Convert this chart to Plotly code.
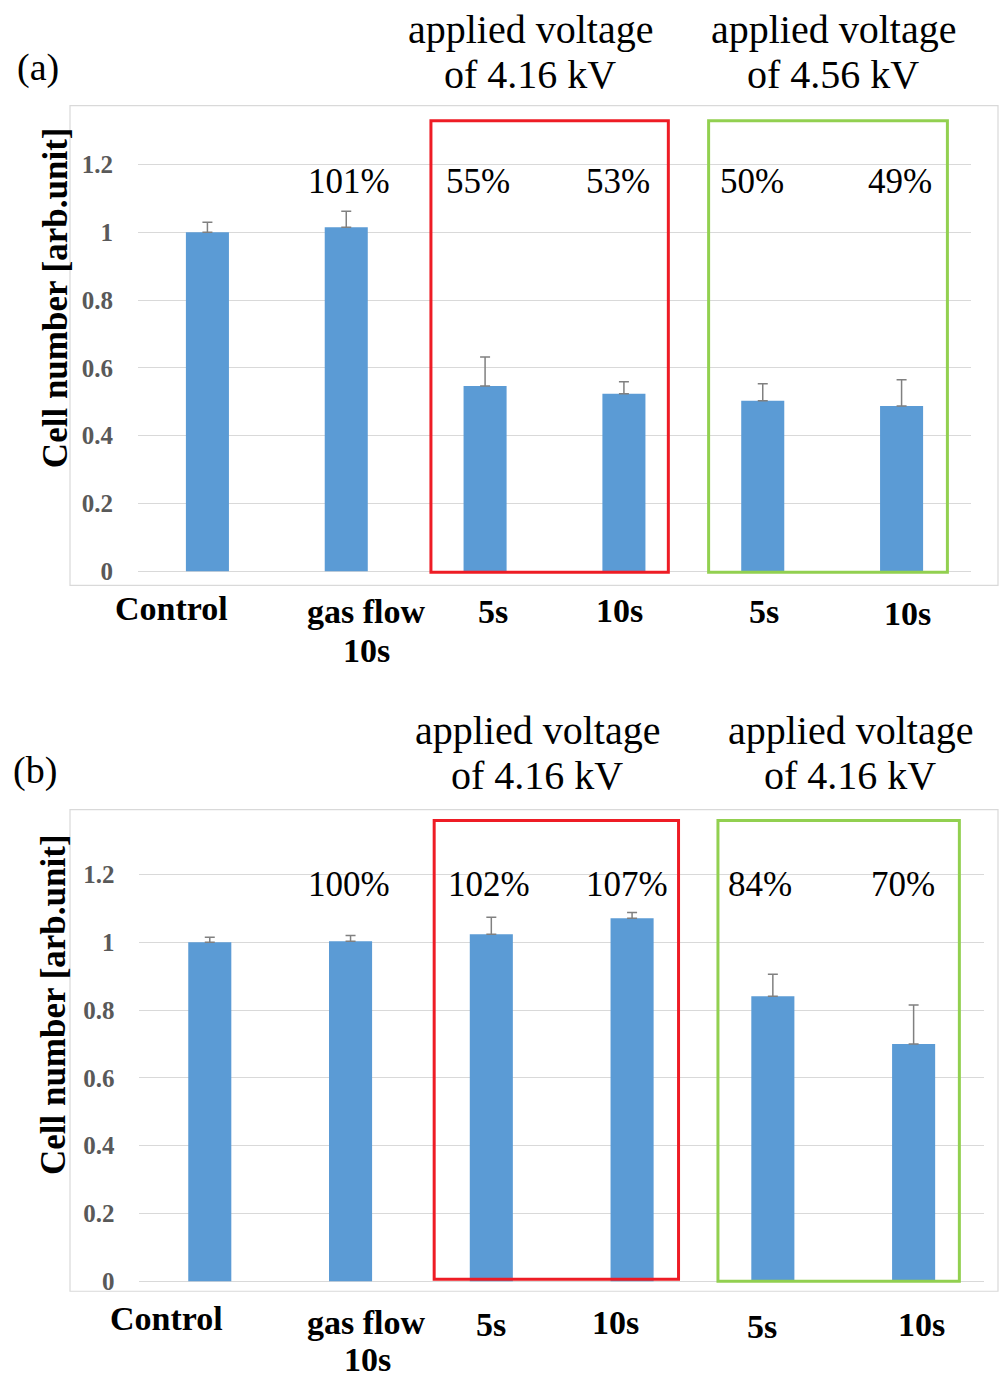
import plotly.graph_objects as go

W, H = 1001, 1380

# ---------------- data ----------------
categories = ["Control", "gas flow 10s", "5s", "10s", "5s", "10s"]
values_a = [1.00, 1.015, 0.547, 0.524, 0.503, 0.488]
err_a = [0.030, 0.047, 0.085, 0.035, 0.050, 0.077]
pct_a = ["101%", "55%", "53%", "50%", "49%"]

values_b = [1.00, 1.003, 1.024, 1.071, 0.841, 0.700]
err_b = [0.015, 0.017, 0.050, 0.017, 0.065, 0.115]
pct_b = ["100%", "102%", "107%", "84%", "70%"]

tick_vals = [0, 0.2, 0.4, 0.6, 0.8, 1.0, 1.2]
tick_text = ["0", "0.2", "0.4", "0.6", "0.8", "1", "1.2"]

group_titles_a = [("applied voltage", "of 4.16 kV"), ("applied voltage", "of 4.56 kV")]
group_titles_b = [("applied voltage", "of 4.16 kV"), ("applied voltage", "of 4.16 kV")]
y_title = "Cell number [arb.unit]"

# ---------------- styles ----------------
BAR = "#5B9BD5"
GRID = "#D9D9D9"
RED = "#EE1C25"
GREEN = "#92D050"
ERR = "#808080"
SERIF = "Liberation Serif"


def px(x):
    return x / W


def py(y):
    return 1 - y / H


xs = list(range(len(categories)))

fig = go.Figure()
fig.add_trace(go.Bar(
    x=xs, y=values_a, width=0.31, marker=dict(color=BAR, line=dict(width=0)),
    error_y=dict(type="data", symmetric=False, array=err_a,
                 arrayminus=[0] * len(err_a), color=ERR, thickness=1.5, width=5),
    xaxis="x", yaxis="y", showlegend=False, hoverinfo="skip"))
fig.add_trace(go.Bar(
    x=xs, y=values_b, width=0.306, marker=dict(color=BAR, line=dict(width=0)),
    error_y=dict(type="data", symmetric=False, array=err_b,
                 arrayminus=[0] * len(err_b), color=ERR, thickness=1.5, width=5),
    xaxis="x2", yaxis="y2", showlegend=False, hoverinfo="skip"))

yax = dict(range=[-0.03, 1.4], tickvals=tick_vals, ticktext=tick_text,
           showgrid=True, gridcolor=GRID, gridwidth=1, zeroline=False,
           showline=False, ticks="", ticklabelstandoff=24,
           tickfont=dict(family=SERIF, size=25, color="#595959", weight="bold"))
xax = dict(range=[-0.5, 5.5], showticklabels=False, showgrid=False,
           zeroline=False, showline=False, ticks="")

fig.update_layout(
    width=W, height=H, margin=dict(l=0, r=0, t=0, b=0),
    paper_bgcolor="white", plot_bgcolor="white",
    xaxis=dict(xax, domain=[px(138), px(971)], anchor="y"),
    yaxis=dict(yax, domain=[py(583.2), py(97)], anchor="x"),
    xaxis2=dict(xax, domain=[px(139.4), px(984)], anchor="y2"),
    yaxis2=dict(yax, domain=[py(1295.2), py(809)], anchor="x2"),
)

shapes = []
# chart-area borders
for (x0, y0, x1, y1) in [(70, 106, 998, 587), (70, 812, 998, 1295)]:
    shapes.append(dict(type="rect", xref="paper", yref="paper",
                       x0=px(x0), x1=px(x1), y0=py(y1), y1=py(y0),
                       line=dict(color=GRID, width=1.2), layer="below"))
# group boxes
shapes += [
    dict(type="rect", xref="x", yref="y", x0=1.61, x1=3.32, y0=-0.003, y1=1.329,
         line=dict(color=RED, width=3)),
    dict(type="rect", xref="x", yref="y", x0=3.61, x1=5.33, y0=-0.003, y1=1.329,
         line=dict(color=GREEN, width=3)),
    dict(type="rect", xref="x2", yref="y2", x0=1.594, x1=3.33, y0=0.006, y1=1.359,
         line=dict(color=RED, width=3)),
    dict(type="rect", xref="x2", yref="y2", x0=3.61, x1=5.325, y0=0.0, y1=1.359,
         line=dict(color=GREEN, width=3)),
]
fig.update_layout(shapes=shapes)

ann = []


def text(x, y, s, size, bold=False, color="black", angle=0):
    ann.append(dict(xref="paper", yref="paper", x=px(x), y=py(y), text=s,
                    showarrow=False, xanchor="center", yanchor="middle",
                    textangle=angle,
                    font=dict(family=SERIF, size=size, color=color,
                              weight="bold" if bold else "normal")))


# panel letters
text(38, 68, "(a)", 38)
text(35, 773, "(b)", 38)

# y titles
text(55, 299, y_title, 35, bold=True, angle=-90)
text(53, 1008, y_title, 35, bold=True, angle=-90)

# group titles
for (l1, l2), cx in zip(group_titles_a, [530, 833]):
    text(cx, 30, l1, 40)
    text(cx, 75, l2, 40)
for (l1, l2), cx in zip(group_titles_b, [537, 850]):
    text(cx, 733, l1, 40)
    text(cx, 778, l2, 40)

# percentages
for s, cx in zip(pct_a, [349, 478, 618, 752, 900]):
    text(cx, 182, s, 35)
for s, cx in zip(pct_b, [349, 489, 627, 760, 903]):
    text(cx, 887, s, 35)

# category labels
lab_a = [(171, 610), (366, 613), (493, 613), (619, 612), (764, 613), (907, 615)]
lab_b = [(166, 1322), (366, 1326), (491, 1328), (615, 1326), (762, 1330), (921, 1328)]
for lab, (cx, cy) in zip(categories, lab_a):
    if lab == "gas flow 10s":
        text(cx, cy, "gas flow", 34, bold=True)
        text(cx, 652, "10s", 34, bold=True)
    else:
        text(cx, cy, lab, 34, bold=True)
for lab, (cx, cy) in zip(categories, lab_b):
    if lab == "gas flow 10s":
        text(cx, cy, "gas flow", 34, bold=True)
        text(367, 1363, "10s", 34, bold=True)
    else:
        text(cx, cy, lab, 34, bold=True)

fig.update_layout(annotations=ann)

fig.write_html("out.html", config={"displayModeBar": False},
               post_script="document.body.style.margin='0px';document.body.style.overflow='hidden';")
